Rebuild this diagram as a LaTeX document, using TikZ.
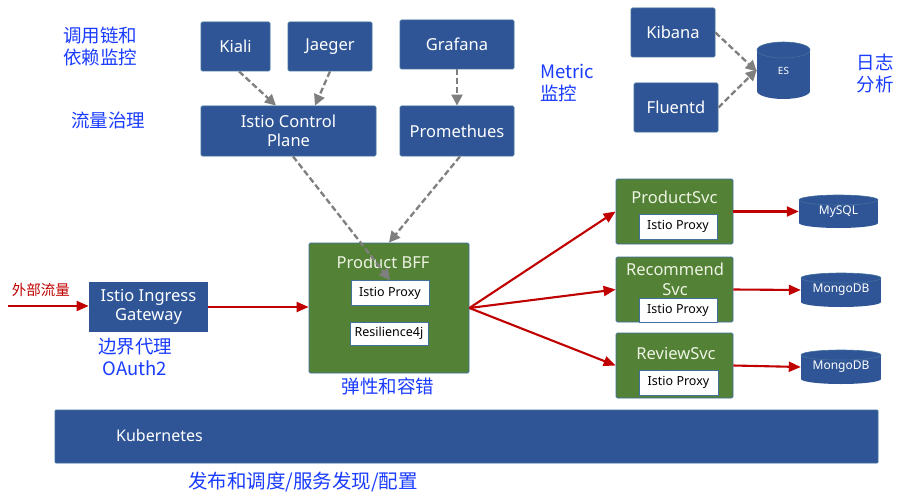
\documentclass[tikz,border=0pt]{standalone}
\usepackage{fontspec}
\setmainfont{Noto Sans}
\newfontfamily\cjk{Noto Sans CJK SC}
\usetikzlibrary{arrows.meta}
\definecolor{boxblue}{HTML}{2F5597}
\definecolor{boxgreen}{HTML}{538135}
\definecolor{edgeblue}{HTML}{41719C}
\definecolor{lblblue}{HTML}{1A3CFF}
\definecolor{arrred}{HTML}{C00000}
\definecolor{arrgray}{HTML}{7F7F7F}
\definecolor{svctext}{HTML}{EEF4E4}
\newcommand{\dbcyl}[7]{%
  \fill[boxblue] (#2-#4/2,#3-#5/2+#6) rectangle (#2+#4/2,#3+#5/2-#6);
  \fill[boxblue] (#2,#3+#5/2-#6) ellipse [x radius=#4/2, y radius=#6];
  \fill[boxblue] (#2,#3-#5/2+#6) ellipse [x radius=#4/2, y radius=#6];
  \draw[edgeblue, line width=0.6pt] (#2,#3-#5/2+#6) ellipse [x radius=#4/2, y radius=#6];
  \node[dbtext, minimum width=#4 pt, minimum height=#5 pt] (#1) at (#2,#3) {#7};
}
\begin{document}
\begin{tikzpicture}[x=1pt,y=-1pt,
  bluebox/.style={rectangle, rounded corners=1.5pt, fill=boxblue, draw=edgeblue, line width=0.8pt,
    text=white, font=\fontsize{16.5}{19.5}\selectfont, align=center, inner sep=0pt},
  greenbox/.style={rectangle, rounded corners=1.5pt, fill=boxgreen, draw=edgeblue, line width=0.8pt, inner sep=0pt},
  svctitle/.style={text=svctext, font=\fontsize{16.5}{20}\selectfont, align=center, inner sep=0pt},
  proxybox/.style={rectangle, fill=white, draw=edgeblue, line width=0.8pt, inner sep=0pt,
    font=\fontsize{12.5}{14}\selectfont, text=black},
  dbtext/.style={rectangle, inner sep=0pt, text=white, font=\fontsize{12}{14}\selectfont},
  lbl/.style={text=lblblue, font=\cjk\fontsize{18.5}{22}\selectfont, align=left, inner sep=0pt},
  grayarr/.style={draw=arrgray, line width=2.3pt, dash pattern=on 6pt off 3pt,
    -{Triangle[length=11pt,width=11pt]}},
  redarr/.style={draw=arrred, line width=2.1pt, -{Triangle[length=12pt,width=10pt]}},
]
\useasboundingbox (0,0) rectangle (901,500);
\fill[white] (0,0) rectangle (901,500);

% top blue boxes
\node[bluebox, minimum width=69pt, minimum height=49pt] (kiali) at (235.5,46.5) {Kiali};
\node[bluebox, minimum width=84pt, minimum height=49pt] (jaeger) at (330,46.5) {Jaeger};
\node[bluebox, minimum width=114pt, minimum height=49pt] (grafana) at (457,44.5) {Grafana};
\node[bluebox, minimum width=175pt, minimum height=50pt] (cp) at (288.5,131) {Istio Control\\Plane};
\node[bluebox, minimum width=114pt, minimum height=50pt] (prom) at (457,131) {Promethues};
\node[bluebox, minimum width=84pt, minimum height=49pt] (kibana) at (673,32.5) {Kibana};
\node[bluebox, minimum width=84pt, minimum height=49pt] (fluentd) at (676,107.5) {Fluentd};
\dbcyl{es}{783.5}{70.5}{53}{57}{8}{\fontsize{10}{12}\selectfont ES}

% gateway
\node[bluebox, rounded corners=0pt, draw=none, minimum width=119pt, minimum height=50pt] (gw) at (148.5,307) {Istio Ingress\\Gateway};

% product BFF
\node[greenbox, minimum width=160pt, minimum height=130pt] (bff) at (389,308) {};
\node[svctitle] (bfft) at (383,262) {Product BFF};
\node[proxybox, minimum width=78pt, minimum height=25pt] (bffproxy) at (390,293) {Istio Proxy};
\node[proxybox, minimum width=78pt, minimum height=23pt] (res) at (389,333.5) {Resilience4j};

% services
\node[greenbox, minimum width=117pt, minimum height=65pt] (prod) at (674.5,211.5) {};
\node[svctitle] (prodt) at (674.5,197) {ProductSvc};
\node[proxybox, minimum width=78pt, minimum height=25pt] (prodp) at (678,226.5) {Istio Proxy};

\node[greenbox, minimum width=117pt, minimum height=65pt] (rec) at (674.5,289.5) {};
\node[svctitle] (rect) at (675,279) {Recommend\\Svc};
\node[proxybox, minimum width=78pt, minimum height=24pt] (recp) at (678,310) {Istio Proxy};

\node[greenbox, minimum width=117pt, minimum height=65pt] (rev) at (674.5,365.5) {};
\node[svctitle] (revt) at (676,353) {ReviewSvc};
\node[proxybox, minimum width=79pt, minimum height=25pt] (revp) at (678.5,382.5) {Istio Proxy};

% databases
\dbcyl{mysql}{838.5}{211.5}{79}{33}{5}{MySQL}
\dbcyl{mongo1}{841}{290}{80}{34}{5}{MongoDB}
\dbcyl{mongo2}{841}{367}{80}{34}{5}{MongoDB}

% kubernetes
\node[bluebox, rounded corners=1pt, minimum width=823pt, minimum height=53pt] (k8s) at (466.5,436.5) {};
\node[text=white, font=\fontsize{16}{18}\selectfont, inner sep=0pt] (k8st) at (159.5,435) {Kubernetes};

% labels
\node[lbl] (l1) at (100,46) {调用链和\\依赖监控};
\node[lbl] (l2) at (108,120) {流量治理};
\node[lbl, anchor=west] (l3) at (540,83) {Metric\\监控};
\node[lbl] (l4) at (875,73) {日志\\分析};
\node[lbl, align=center] (l5) at (135,356.5) {边界代理\\OAuth2};
\node[lbl] (l6) at (388,386) {弹性和容错};
\node[lbl, font=\cjk\fontsize{19.5}{22}\selectfont] (l7) at (303,482) {发布和调度/服务发现/配置};
\node[text=arrred, font=\cjk\fontsize{14.5}{16}\selectfont, inner sep=0pt] (l8) at (41,290) {外部流量};
\coordinate (ext) at (8,306);

% gray dashed arrows
\draw[grayarr] ([xshift=3.5pt]kiali.south) -- ([xshift=-12.5pt]cp.north);
\draw[grayarr] (jaeger.south) -- ([xshift=26.5pt]cp.north);
\draw[grayarr] (grafana.south) -- (prom.north);
\draw[grayarr] ([xshift=4.5pt]cp.south) -- (bffproxy.north);
\draw[grayarr] ([xshift=3pt]prom.south) -- (bff.north);
\draw[grayarr] ([yshift=0pt]kibana.east) -- ([yshift=-1pt]es.west);
\draw[grayarr] (fluentd.east) -- ([yshift=1pt]es.west);

% red arrows
\draw[redarr] (ext) -- (gw.west |- ext);
\draw[redarr] (gw.east) -- (bff.west |- gw.east);
\draw[redarr] (bff.east) -- (prod.west);
\draw[redarr] (bff.east) -- (rec.west);
\draw[redarr] (bff.east) -- (rev.west);
\draw[redarr] (prod.east) -- (mysql.west);
\draw[redarr] (rec.east) -- (mongo1.west);
\draw[redarr] (rev.east) -- (mongo2.west);
\end{tikzpicture}
\end{document}
